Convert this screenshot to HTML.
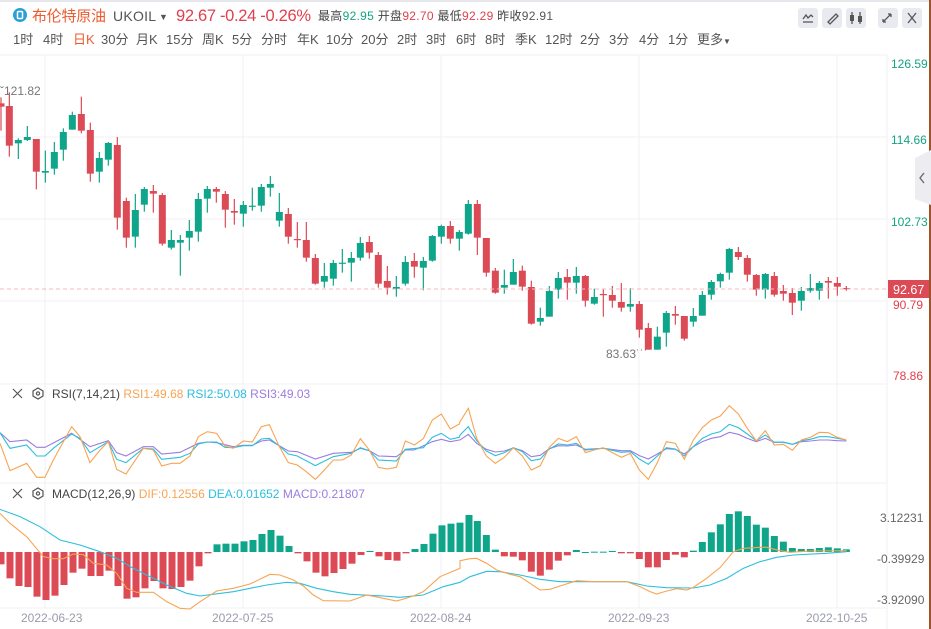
<!DOCTYPE html>
<html><head><meta charset="utf-8">
<style>
body{margin:0;width:931px;height:629px;overflow:hidden;background:#fff;font-family:"Liberation Sans","Noto Sans CJK SC",sans-serif;}
svg{position:absolute;left:0;top:0}
</style></head><body>
<svg id="s" width="931" height="629" xmlns="http://www.w3.org/2000/svg" font-family="Liberation Sans, Noto Sans CJK SC, sans-serif">
<rect x="0" y="0" width="931" height="2" fill="#e6e7ec"/>
<rect x="929" y="0" width="2" height="629" fill="#a0522d"/>
<!-- header -->
<circle cx="20" cy="15" r="7" fill="#2aa0d8"/><rect x="17.5" y="11.5" width="5" height="7" rx="1" fill="none" stroke="#fff" stroke-width="1.5"/>
<text x="32" y="21" font-size="15" fill="#ec5b2e" textLength="74">布伦特原油</text>
<text x="113" y="21" font-size="14" fill="#555" textLength="43">UKOIL</text><text x="159" y="20" font-size="9" fill="#555">▼</text>
<text x="176" y="21" font-size="16.5" fill="#e0404d" textLength="135">92.67 -0.24 -0.26%</text>
<text x="318" y="20" font-size="12" fill="#444" textLength="235">最高<tspan fill="#13a383">92.95</tspan> 开盘<tspan fill="#e0404d">92.70</tspan> 最低<tspan fill="#e0404d">92.29</tspan> 昨收<tspan fill="#555">92.91</tspan></text>
<g fill="#e9eaf0"><rect x="798" y="8" width="20" height="20" rx="3"/><rect x="822" y="8" width="20" height="20" rx="3"/><rect x="846" y="8" width="20" height="20" rx="3"/><rect x="878" y="8" width="20" height="20" rx="3"/><rect x="902" y="8" width="20" height="20" rx="3"/></g>
<g stroke="#555" stroke-width="1.3" fill="none"><path d="M803 22h10M803 19l3-4 2 3 3-3 2 2"/><path d="M828 22l8-8 2 2-8 8z"/><path d="M852 12v12M860 12v12"/><path d="M883 22l8-8M883 22h3M883 22v-3M891 14h-3M891 14v3"/><path d="M908 13l8 10M916 13l-8 10"/></g>
<g fill="#555"><rect x="850" y="15" width="4" height="6"/><rect x="858" y="16" width="4" height="6"/></g>
<text y="44" font-size="13" fill="#555"><tspan x="13">1时</tspan><tspan x="43">4时</tspan><tspan x="73" fill="#ec5b2e">日K</tspan><tspan x="101">30分</tspan><tspan x="136">月K</tspan><tspan x="166">15分</tspan><tspan x="202">周K</tspan><tspan x="232">5分</tspan><tspan x="261">分时</tspan><tspan x="297">年K</tspan><tspan x="326">10分</tspan><tspan x="361">20分</tspan><tspan x="397">2时</tspan><tspan x="426">3时</tspan><tspan x="456">6时</tspan><tspan x="485">8时</tspan><tspan x="515">季K</tspan><tspan x="545">12时</tspan><tspan x="580">2分</tspan><tspan x="609">3分</tspan><tspan x="639">4分</tspan><tspan x="668">1分</tspan><tspan x="697">更多</tspan></text>
<text x="723" y="44" font-size="8" fill="#555">▼</text>
<g id="grid" stroke="#f1f2f5" stroke-width="1"></g>
<g id="plot"></g>
<!-- axis labels -->
<g font-size="12">
<text x="891" y="68" fill="#13a383">126.59</text>
<text x="891" y="144" fill="#13a383">114.66</text>
<text x="891" y="226" fill="#13a383">102.73</text>
<rect x="888" y="280" width="41" height="18" fill="#dc4a56"/>
<text x="893" y="294" fill="#fff" font-size="12.5">92.67</text>
<text x="893" y="309" fill="#e0404d">90.79</text>
<text x="893" y="380" fill="#e0404d">78.86</text>
<text x="880" y="522" fill="#666">3.12231</text>
<text x="877" y="563" fill="#666">-0.39929</text>
<text x="877" y="604" fill="#666">-3.92090</text>
<text x="21" y="622" fill="#9a9cab">2022-06-23</text>
<text x="212" y="622" fill="#9a9cab">2022-07-25</text>
<text x="410" y="622" fill="#9a9cab">2022-08-24</text>
<text x="608" y="622" fill="#9a9cab">2022-09-23</text>
<text x="806" y="622" fill="#9a9cab">2022-10-25</text>
<text x="0" y="95" fill="#777">ˇ121.82</text>
<text x="606" y="358" fill="#777">83.63˙˙˙</text>
</g>
<path d="M915 158l16-8v55l-16-6z" fill="#ececf1"/><path d="M924 173l-4 5 4 5" stroke="#666" stroke-width="1.3" fill="none"/>
<g stroke="#555" stroke-width="1.2" fill="none"><path d="M13 389l9 9M22 389l-9 9"/><path d="M13 489l9 9M22 489l-9 9"/>
<path d="M38 388l5 3v5l-5 3-5-3v-5z"/><circle cx="38" cy="393.5" r="1.6"/><path d="M38 488l5 3v5l-5 3-5-3v-5z"/><circle cx="38" cy="493.5" r="1.6"/></g>
<text x="52" y="398" font-size="12" fill="#444">RSI(7,14,21) <tspan fill="#f7a452">RSI1:49.68</tspan> <tspan fill="#2bbfdc">RSI2:50.08</tspan> <tspan fill="#9b7de0">RSI3:49.03</tspan></text>
<text x="52" y="498" font-size="12" fill="#444">MACD(12,26,9) <tspan fill="#f7a452">DIF:0.12556</tspan> <tspan fill="#2bbfdc">DEA:0.01652</tspan> <tspan fill="#9b7de0">MACD:0.21807</tspan></text>
</svg>
<script>
const NS="http://www.w3.org/2000/svg";
function el(p,t,a){const e=document.createElementNS(NS,t);for(const k in a)e.setAttribute(k,a[k]);p.appendChild(e);return e;}
const g=document.getElementById('grid'),P=document.getElementById('plot');
[55,137,219,301,384,483,608].forEach(y=>el(g,'line',{x1:0,x2:887,y1:y,y2:y}));
[45,243,441,639,837].forEach(x=>el(g,'line',{x1:x,x2:x,y1:55,y2:608}));
el(g,'line',{x1:887,x2:887,y1:55,y2:629});
const A=[[3,130,140,112,212,0],[28,138,257,97,290,0],[55,240,250,235,297,1],[82,231,240,198,243,1],[109,237,335,237,388,0],[136,333,338,272,368,1],[163,276,326,246,344,1],[190,216,269,205,302,1],[217,165,209,155,209,1],[244,162,212,110,220,0],[271,210,341,188,365,0],[298,294,335,276,368,1],[325,249,299,246,317,1],[352,255,473,231,509,0],[379,423,533,413,563,0],[406,450,530,402,563,1],[433,387,434,381,455,1],[460,393,401,375,458,0],[487,405,551,399,557,0],[514,540,563,510,569,1],[541,540,548,525,647,1],[568,513,533,480,572,1],[595,417,515,399,545,1],[622,387,416,378,458,1],[649,387,395,381,428,0],[676,402,449,393,503,0],[703,453,458,417,494,0],[730,435,461,423,500,1],[757,437,440,383,452,1],[784,381,437,372,455,1],[811,372,383,348,410,1],[838,456,482,399,500,1],[865,462,530,444,551,0],[892,537,539,486,563,0],[919,540,593,486,605,0],[946,594,671,582,674,0],[973,648,665,609,683,1],[1000,609,656,600,677,1],[1027,608,611,567,638,1],[1054,594,608,576,665,1],[1081,549,593,531,602,1],[1108,546,578,528,596,0],[1135,585,671,576,683,0],[1162,663,683,618,704,0],[1189,681,686,648,710,1],[1216,606,671,588,677,1],[1243,603,620,579,653,0],[1270,603,623,591,691,1],[1297,528,602,525,605,1],[1324,498,530,494,551,1],[1351,498,536,483,551,0],[1378,516,536,510,572,1],[1405,432,521,420,524,1]];
const B=[[52,72,173,60,225,0],[79,174,278,174,290,0],[106,272,338,264,341,0],[133,315,323,269,341,1],[160,276,314,237,314,1],[187,272,320,257,332,0],[214,321,431,302,434,0],[241,414,425,383,437,1],[268,333,410,318,410,1],[295,294,329,276,356,1],[322,291,308,267,359,0],[349,288,308,261,341,1],[376,288,362,285,380,0],[403,351,371,326,374,1],[430,342,344,327,410,0],[457,345,362,318,383,0],[484,366,383,309,395,0],[511,372,380,324,395,1],[538,372,449,363,473,0],[565,444,509,429,509,0],[592,470,509,440,509,1],[619,399,458,393,500,1],[646,402,407,378,434,0],[673,408,476,408,482,0],[700,408,425,384,440,1],[727,345,407,333,407,1],[754,306,344,300,359,1],[781,282,304,278,323,1],[808,207,278,204,299,1],[835,216,231,201,240,0],[862,234,284,225,305,0],[889,285,329,282,347,0],[916,282,329,279,356,1],[943,288,344,276,350,0],[970,333,341,315,362,0],[997,339,368,324,405,0],[1024,333,362,321,392,1],[1051,324,332,282,338,1],[1078,309,332,303,359,1],[1105,303,308,291,356,0],[1132,309,320,291,347,0],[1159,324,326,318,332,0]];
const C=['#dc4a56','#0ea58a'];
function candle(x,t,b,h,l,c){const col=C[c];el(P,'line',{x1:x,x2:x,y1:h,y2:l,stroke:col,'stroke-width':1.2});el(P,'rect',{x:x-3.5,y:t,width:7,height:Math.max(1.2,b-t),fill:col});}
A.forEach(a=>candle(a[0]/3,60+a[1]/3,60+a[2]/3,60+a[3]/3,60+a[4]/3,a[5]));
B.forEach(a=>candle(460+a[0]/3,180+a[1]/3,180+a[2]/3,180+a[3]/3,180+a[4]/3,a[5]));
el(P,'line',{x1:0,x2:887,y1:289,y2:289,stroke:'#f4b8be','stroke-dasharray':'4,3'});
const H1=[253,295,318,321,350,360,347,315,278,266,288,288,272,318,356,352,325,303,325,327,321,302,259,220,193,191,191,184,180,162,150,167,198,220,244,278,289,279,267,251,225,213,229,240,242,220,207,192,161,136,131,128,105];
const H2=[123,165,209,229,230,241,275,287,269,242,226,210,216,215,215,213,220,220,237,262,262,240,224,232,212,186,157,133,102,94,108,134,143,168,185,204,207,207,204,202,205,208];
const z0=552;
function bar(x,y){const yy=480+y/3;const col=yy>z0?C[0]:C[1];el(P,'rect',{x:x-3.5,y:Math.min(yy,z0),width:7,height:Math.max(1,Math.abs(yy-z0)),fill:col});}
H1.forEach((y,i)=>bar((3+27*i)/3,y));
H2.forEach((y,i)=>bar(460+(52+27*i)/3,y));
function line(pts1,pts2,ox,oy,col){let d=[];pts1.forEach(p=>d.push([p[0]/3,oy+p[1]/3]));pts2.forEach(p=>d.push([460+p[0]/3,oy+p[1]/3]));d=d.filter((p,i)=>i==0||p[0]>d[i-1][0]-0.01);el(P,'polyline',{points:d.map(p=>p.join(',')).join(' '),fill:'none',stroke:col,'stroke-width':1.1});}
line([[0,88],[60,110],[120,140],[180,180],[240,195],[300,215],[350,235],[400,265],[450,290],[500,315],[560,340],[600,348],[700,335],[800,315],[860,307],[900,310],[950,325],[1000,335],[1050,343],[1150,348],[1200,352],[1270,345],[1330,320]],[[0,307],[30,290],[80,274],[120,275],[180,285],[240,298],[300,305],[400,305],[500,305],[560,318],[620,323],[700,324],[750,315],[800,295],[850,265],[900,245],[950,232],[1000,225],[1100,220],[1160,215]],0,480,'#2bbfdc');
line([[0,100],[30,130],[80,170],[130,230],[160,236],[190,236],[220,222],[250,224],[280,250],[320,255],[350,280],[380,325],[410,337],[460,337],[500,365],[540,385],[570,387],[600,365],[650,333],[700,325],[750,312],[810,283],[840,285],[880,300],[910,318],[940,345],[970,362],[1050,363],[1100,345],[1150,355],[1190,363],[1240,348],[1270,335],[1320,290],[1380,265]],[[0,242],[30,236],[50,235],[80,250],[110,270],[150,283],[180,290],[210,310],[240,330],[270,328],[300,318],[350,302],[400,305],[500,305],[540,320],[570,335],[590,342],[620,333],[650,326],[680,330],[700,322],[740,295],[780,263],[820,215],[850,205],[900,202],[920,202],[960,212],[990,217],[1050,213],[1160,212]],0,480,'#f7a452');
line([[0,158],[30,185],[80,180],[110,202],[135,202],[215,160],[270,200],[325,182],[350,218],[378,228],[430,200],[460,200],[485,222],[540,217],[595,190],[622,186],[650,188],[700,200],[730,196],[757,196],[784,183],[808,180],[865,213],[892,215],[946,237],[1000,220],[1054,217],[1081,205],[1108,212],[1135,228],[1189,230],[1216,210],[1243,210],[1297,185],[1324,178],[1351,185],[1378,180]],[[0,180],[25,163],[50,190],[79,208],[106,216],[133,213],[160,204],[187,212],[214,230],[241,226],[268,206],[295,197],[322,198],[349,195],[376,208],[430,205],[484,212],[511,212],[538,227],[565,237],[592,222],[619,206],[646,208],[673,222],[700,200],[727,185],[754,175],[781,170],[808,157],[835,163],[862,175],[889,185],[916,175],[943,187],[970,187],[997,193],[1024,185],[1051,183],[1078,180],[1105,180],[1132,182],[1159,183]],0,380,'#9b7de0');
line([[0,158],[30,205],[80,195],[110,228],[135,228],[160,205],[215,162],[240,175],[270,218],[300,200],[325,185],[350,238],[378,248],[430,205],[460,207],[485,238],[540,232],[570,220],[595,192],[622,186],[650,186],[675,202],[700,203],[730,197],[757,197],[784,177],[808,175],[838,198],[865,222],[892,228],[946,257],[1000,230],[1054,220],[1081,203],[1108,212],[1135,240],[1189,243],[1216,208],[1270,203],[1297,172],[1324,160],[1351,178],[1378,172]],[[0,165],[25,140],[50,182],[79,213],[106,227],[133,218],[160,203],[187,215],[214,242],[241,237],[268,207],[295,192],[322,195],[349,190],[376,210],[430,205],[484,217],[511,215],[538,237],[565,253],[592,228],[619,203],[646,207],[673,228],[700,200],[727,175],[754,162],[781,155],[808,133],[835,143],[862,162],[889,182],[916,165],[943,187],[970,186],[997,193],[1024,182],[1051,178],[1078,170],[1105,170],[1132,175],[1159,180]],0,380,'#2bbfdc');
line([[0,190],[30,272],[80,250],[110,292],[135,292],[160,240],[215,140],[240,170],[270,248],[300,210],[325,185],[350,268],[378,282],[430,205],[460,210],[485,258],[515,250],[540,250],[570,228],[595,170],[622,155],[650,160],[675,198],[700,205],[730,183],[757,186],[784,140],[808,134],[838,200],[865,248],[892,255],[919,275],[946,298],[973,270],[1000,240],[1027,240],[1054,225],[1081,176],[1108,210],[1135,262],[1162,267],[1189,262],[1216,183],[1243,195],[1270,176],[1297,120],[1324,102],[1351,147],[1378,132]],[[0,125],[25,85],[50,175],[79,228],[106,250],[133,232],[160,203],[187,228],[214,270],[241,257],[268,202],[295,175],[322,185],[349,170],[376,218],[403,210],[430,203],[457,218],[484,232],[511,220],[538,270],[565,298],[592,248],[619,185],[646,190],[673,238],[700,180],[727,143],[754,120],[781,108],[808,77],[835,102],[862,145],[889,183],[916,152],[943,195],[970,193],[997,211],[1024,180],[1051,172],[1078,157],[1105,158],[1132,172],[1159,180]],0,380,'#f7a452');
</script>
</body></html>
